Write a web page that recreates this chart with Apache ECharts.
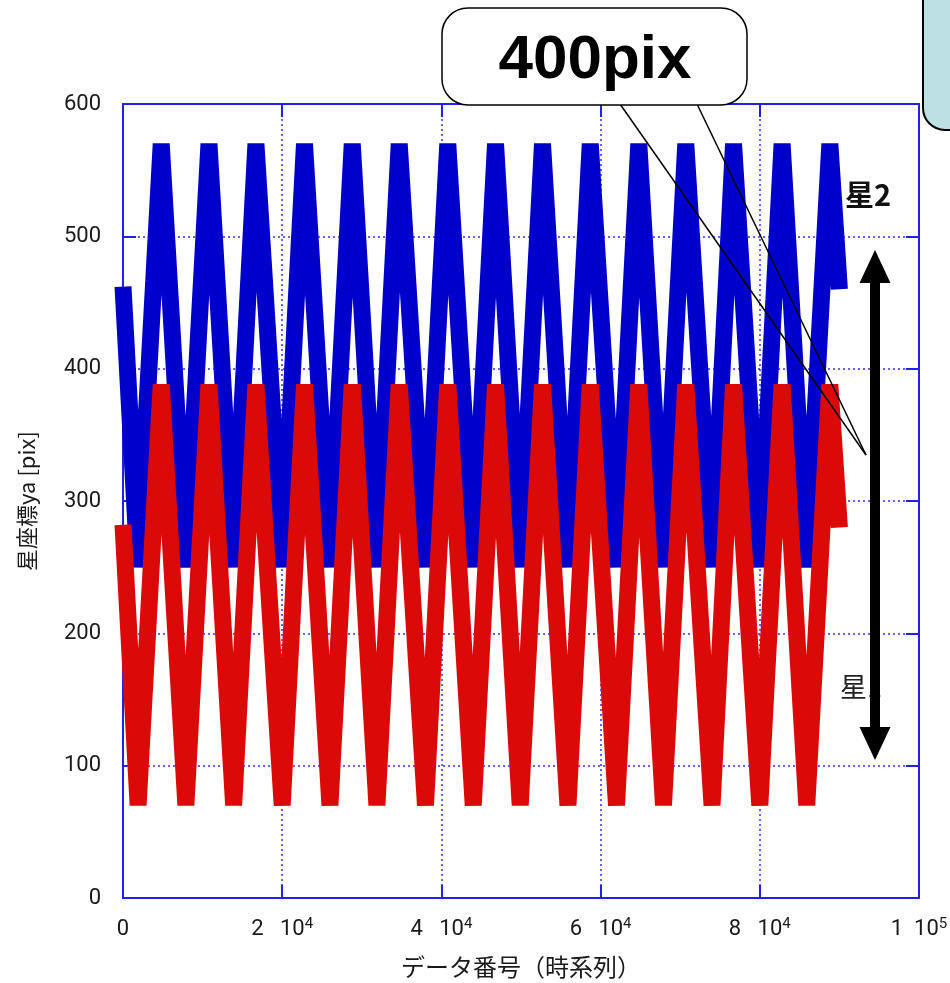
<!DOCTYPE html>
<html><head><meta charset="utf-8">
<script src="https://cdn.jsdelivr.net/npm/echarts/dist/echarts.min.js"></script>
<style>html,body{margin:0;padding:0;background:#fff}#c{width:950px;height:983px}</style>
</head><body><div id="c"></div>
<script>
// vertices (data index) of the two star tracks
const timeVertices = [0, 1900, 4800, 7900, 10800, 13900, 16700, 20000, 22800, 26000, 28800, 31900, 34700, 38000, 40800, 44000, 46800, 49900, 52700, 55900, 58700, 62000, 64800, 67900, 70700, 74000, 76700, 80000, 82800, 85900, 88800, 90000];
const star2Values = [462, 250, 570, 250, 570, 250, 570, 250, 570, 250, 570, 250, 570, 250, 570, 250, 570, 250, 570, 250, 570, 250, 570, 250, 570, 250, 570, 250, 570, 250, 570, 460];
const star1Values = [282, 70, 388, 70, 388, 70, 388, 70, 388, 70, 388, 70, 388, 70, 388, 70, 388, 70, 388, 70, 388, 70, 388, 70, 388, 70, 388, 70, 388, 70, 388, 280];
const xTickValues = [0, 20000, 40000, 60000, 80000, 100000];
const xTickMantissa = ['0', '2', '4', '6', '8', '1'];
const xTickExponent = ['', '4', '4', '4', '4', '5'];

const chart = echarts.init(document.getElementById('c'), null, {renderer: 'canvas'});
const AX = '#2222e6';
const mk = (vals) => timeVertices.map((t, i) => [t, vals[i]]);
const baseX = {type: 'value', min: 0, max: 100000, interval: 20000,
  axisLine: {show: true, onZero: false, lineStyle: {color: AX, width: 2}},
  axisTick: {show: true, inside: true, length: 13, lineStyle: {color: AX, width: 2}}};
const baseY = {type: 'value', min: 0, max: 600, interval: 100,
  axisLine: {show: true, onZero: false, lineStyle: {color: AX, width: 2}},
  axisTick: {show: true, inside: true, length: 13, lineStyle: {color: AX, width: 2}}};

chart.setOption({
  animation: false,
  backgroundColor: '#ffffff',
  grid: {left: 123, right: 31, top: 104, bottom: 85, containLabel: false, outerBoundsMode: 'none'},
  xAxis: [
    Object.assign({}, baseX, {position: 'bottom',
      splitLine: {show: true, lineStyle: {color: '#3030ff', width: 1.5, type: [2, 3]}},
      axisLabel: {margin: 19, showMinLabel: true, showMaxLabel: true,
        formatter: (v) => {
          const i = xTickValues.indexOf(v);
          if (i < 0) return '';
          if (!xTickExponent[i]) return '{a|' + xTickMantissa[i] + '}';
          const gap = xTickMantissa[i] === '1' ? '  ' : '   ';
          return '{a|' + xTickMantissa[i] + gap + '10}{s|' + xTickExponent[i] + '}';
        },
        rich: {
          a: {fontFamily: 'Roboto', fontSize: 22, color: '#1a1a1a', lineHeight: 24},
          s: {fontFamily: 'Roboto', fontSize: 15, color: '#1a1a1a', lineHeight: 15, verticalAlign: 'top'}
        }},
      name: 'データ番号（時系列）', nameLocation: 'middle', nameGap: 57,
      nameTextStyle: {fontFamily: 'Noto Sans CJK JP', fontSize: 24, color: '#1a1a1a'}}),
    Object.assign({}, baseX, {position: 'top', axisLabel: {show: false}, splitLine: {show: false}})
  ],
  yAxis: [
    Object.assign({}, baseY, {position: 'left',
      splitLine: {show: true, lineStyle: {color: '#3030ff', width: 1.5, type: [2, 3]}},
      axisLabel: {margin: 22, fontFamily: 'Roboto', fontSize: 22, color: '#1a1a1a', showMinLabel: true, showMaxLabel: true},
      name: '星座標ya [pix]', nameLocation: 'middle', nameGap: 85,
      nameTextStyle: {fontFamily: 'Noto Sans CJK JP', fontSize: 22, color: '#1a1a1a'}}),
    Object.assign({}, baseY, {position: 'right', axisLabel: {show: false}, splitLine: {show: false}})
  ],
  series: [
    {type: 'line', name: '星2', data: mk(star2Values), symbol: 'none', showSymbol: false, z: 2,
      lineStyle: {color: '#0000cd', width: 17, join: 'bevel', cap: 'butt'}},
    {type: 'line', name: '星1', data: mk(star1Values), symbol: 'none', showSymbol: false, z: 3,
      lineStyle: {color: '#dc0909', width: 17, join: 'bevel', cap: 'butt'}}
  ],
  graphic: [
    {type: 'text', z: 50, silent: true, style: {text: '星1', x: 861, y: 687, align: 'center', verticalAlign: 'middle',
      font: '27px "Noto Sans CJK JP"', fill: '#222'}},
    {type: 'text', z: 50, silent: true, style: {text: '星2', x: 868, y: 195, align: 'center', verticalAlign: 'middle',
      font: 'bold 29px "Noto Sans CJK JP"', fill: '#111'}},
    {type: 'line', z: 60, silent: true, shape: {x1: 875, y1: 278, x2: 875, y2: 732}, style: {stroke: '#000', lineWidth: 10}},
    {type: 'polygon', z: 60, silent: true, shape: {points: [[875, 250], [859.5, 283], [890.5, 283]]}, style: {fill: '#000'}},
    {type: 'polygon', z: 60, silent: true, shape: {points: [[875, 760], [859.5, 727], [890.5, 727]]}, style: {fill: '#000'}},
    {type: 'line', z: 70, silent: true, shape: {x1: 620, y1: 104, x2: 866, y2: 455}, style: {stroke: '#000', lineWidth: 1.5}},
    {type: 'line', z: 70, silent: true, shape: {x1: 697, y1: 104, x2: 866, y2: 455}, style: {stroke: '#000', lineWidth: 1.5}},
    {type: 'rect', z: 80, silent: true, shape: {x: 442, y: 8, width: 305, height: 97, r: 26},
      style: {fill: '#ffffff', stroke: '#000', lineWidth: 1.5}},
    {type: 'text', z: 81, silent: true, style: {text: '400pix', x: 595, y: 61, align: 'center', verticalAlign: 'middle',
      font: 'bold 62px "Liberation Sans"', fill: '#000'}},
    {type: 'rect', z: 80, silent: true, shape: {x: 923, y: -40, width: 80, height: 170, r: 22},
      style: {fill: '#bde0e4', stroke: '#000', lineWidth: 2}}
  ]
});
</script></body></html>
